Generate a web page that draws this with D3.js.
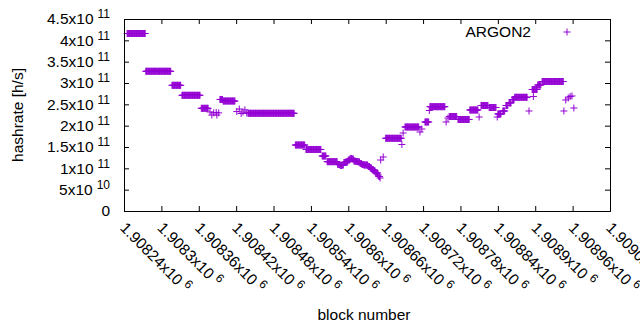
<!DOCTYPE html>
<html>
<head>
<meta charset="utf-8">
<script src="https://cdn.jsdelivr.net/npm/d3@7"></script>
<style>
  body { margin: 0; background: #fff; }
  text { font-family: "Liberation Sans", Arial, sans-serif; fill: #000; }
</style>
</head>
<body>
<script>

// chart size, same as the gnuplot png
var margin = {top: 19, right: 30, bottom: 119, left: 124},
    width = 640 - margin.left - margin.right,
    height = 330 - margin.top - margin.bottom;

// hashrate runs: a block range with one rate
var runFrom = [1908245, 1908275, 1908317, 1908333, 1908364,
  1908378, 1908381, 1908384, 1908388, 1908389, 1908392,
  1908394, 1908399,
  1908421, 1908425, 1908428, 1908431, 1908434, 1908437,
  1908439, 1908515, 1908532, 1908558, 1908566,
  1908583, 1908587, 1908590, 1908593, 1908596, 1908600, 1908603, 1908606, 1908609, 1908612,
  1908616, 1908619, 1908622, 1908625, 1908628, 1908632, 1908635, 1908638, 1908641, 1908644,
  1908648, 1908649, 1908651,
  1908652, 1908656,
  1908660, 1908686, 1908688, 1908691, 1908715, 1908718,
  1908723, 1908730, 1908731, 1908757, 1908760,
  1908762, 1908776, 1908795, 1908810, 1908813, 1908826, 1908839,
  1908840, 1908848, 1908853, 1908858, 1908863, 1908867, 1908890,
  1908895, 1908897, 1908904, 1908911, 1908946,
  1908949, 1908953, 1908956, 1908959, 1908962]
var runTo = [1908274, 1908315, 1908331, 1908362, 1908375,
  1908378, 1908381, 1908384, 1908388, 1908389, 1908392,
  1908398, 1908418,
  1908421, 1908425, 1908428, 1908431, 1908434, 1908437,
  1908513, 1908530, 1908556, 1908564, 1908582,
  1908586, 1908589, 1908592, 1908595, 1908599, 1908602, 1908605, 1908608, 1908611, 1908615,
  1908618, 1908621, 1908624, 1908627, 1908631, 1908634, 1908637, 1908640, 1908643, 1908647,
  1908648, 1908650, 1908651,
  1908652, 1908656,
  1908685, 1908686, 1908688, 1908713, 1908715, 1908718,
  1908729, 1908730, 1908755, 1908757, 1908760,
  1908774, 1908794, 1908808, 1908810, 1908824, 1908837, 1908839,
  1908845, 1908851, 1908856, 1908861, 1908866, 1908887, 1908890,
  1908903, 1908897, 1908909, 1908945, 1908946,
  1908949, 1908953, 1908956, 1908959, 1908962]
var runRate = [4.16e11, 3.275e11, 2.946e11, 2.712e11, 2.407e11,
  2.32e11, 2.25e11, 2.30e11, 2.31e11, 2.25e11, 2.30e11,
  2.614e11, 2.578e11,
  2.33e11, 2.39e11, 2.285e11, 2.32e11, 2.37e11, 2.30e11,
  2.29e11, 1.547e11, 1.442e11, 1.289e11, 1.156e11,
  1.090e11, 1.067e11, 1.078e11, 1.137e11, 1.149e11, 1.195e11, 1.231e11, 1.219e11, 1.172e11, 1.160e11,
  1.149e11, 1.113e11, 1.090e11, 1.078e11, 1.078e11, 1.043e11, 1.008e11, 0.973e11, 0.938e11, 0.891e11,
  0.844e11, 0.809e11, 0.774e11,
  1.195e11, 1.266e11,
  1.704e11, 1.559e11, 1.828e11, 1.969e11, 1.852e11, 1.922e11,
  2.086e11, 2.356e11, 2.445e11, 2.086e11, 2.18e11,
  2.215e11, 2.145e11, 2.367e11, 2.203e11, 2.473e11, 2.426e11, 2.203e11,
  2.274e11, 2.344e11, 2.473e11, 2.532e11, 2.614e11, 2.665e11, 2.344e11,
  2.848e11, 2.684e11, 2.953e11, 3.035e11, 2.344e11,
  2.602e11, 2.649e11, 2.684e11, 2.696e11, 2.414e11]

// tick labels
var xTicks = [1908240, 1908300, 1908360, 1908420, 1908480, 1908540, 1908600,
  1908660, 1908720, 1908780, 1908840, 1908900, 1908960, 1909020]
var xTickMant = ["1.90824", "1.9083", "1.90836", "1.90842", "1.90848", "1.90854", "1.9086",
  "1.90866", "1.90872", "1.90878", "1.90884", "1.9089", "1.90896", "1.90902"]
var xTickExp = "6"
var yTicks = [0, 0.5e11, 1e11, 1.5e11, 2e11, 2.5e11, 3e11, 3.5e11, 4e11, 4.5e11]
var yTickMant = ["0", "5x10", "1x10", "1.5x10", "2x10", "2.5x10", "3x10", "3.5x10", "4x10", "4.5x10"]
var yTickExp = ["", "10", "11", "11", "11", "11", "11", "11", "11", "11"]

var seriesName = "ARGON2"
var color = "#9400d3"
var fontSize = 15.5

var x = d3.scaleLinear()
    .domain([1908240, 1909020])
    .range([0, width]);
var y = d3.scaleLinear()
    .domain([0, 4.5e11])
    .range([height, 0]);

var svg = d3.select("body").append("svg")
    .attr("width", width + margin.left + margin.right)
    .attr("height", height + margin.top + margin.bottom)
  .append("g")
    .attr("transform", "translate(" + margin.left + "," + margin.top + ")");

// one point per block inside each run
var points = []
for (var i = 0; i < runFrom.length; i++) {
  for (var b = runFrom[i]; b <= runTo[i]; b++) {
    points.push({block: b, rate: runRate[i]})
  }
}

var plus = "M-3.5,0H3.5M0,-3.5V3.5"

svg.selectAll(".pt")
    .data(points)
  .enter().append("path")
    .attr("class", "pt")
    .attr("d", plus)
    .attr("transform", function(d) { return "translate(" + x(d.block) + "," + y(d.rate) + ")"; })
    .attr("fill", "none")
    .attr("stroke", color)
    .attr("stroke-width", 1);

// axes, ticks point inwards on all four sides
svg.append("g")
    .attr("transform", "translate(0," + height + ")")
    .call(d3.axisBottom(x).tickValues(xTicks).tickSize(-5).tickFormat(""));
svg.append("g")
    .call(d3.axisTop(x).tickValues(xTicks).tickSize(-5).tickFormat(""));
svg.append("g")
    .call(d3.axisLeft(y).tickValues(yTicks).tickSize(-5).tickFormat(""));
svg.append("g")
    .attr("transform", "translate(" + width + ",0)")
    .call(d3.axisRight(y).tickValues(yTicks).tickSize(-5).tickFormat(""));

svg.selectAll(".domain").attr("stroke", "#000");
svg.selectAll(".tick line").attr("stroke", "#000");

// y tick labels with superscript exponent
yTicks.forEach(function(v, i) {
  var t = svg.append("text")
      .attr("x", -14)
      .attr("y", y(v))
      .attr("dy", "0.35em")
      .attr("text-anchor", "end")
      .style("font-size", fontSize + "px")
      .text(yTickMant[i]);
  if (yTickExp[i] != "") {
    t.append("tspan")
      .attr("dx", 4)
      .attr("dy", -6)
      .style("font-size", "12px")
      .text(yTickExp[i]);
  }
});

// x tick labels, rotated like gnuplot "rotate by -45"
xTicks.forEach(function(v, i) {
  var t = svg.append("text")
      .attr("transform", "translate(" + (x(v) - 1) + "," + (height + 14) + ") rotate(45)")
      .attr("dy", "0.35em")
      .style("font-size", fontSize + "px")
      .text(xTickMant[i] + "x10");
  t.append("tspan")
      .attr("dx", 4)
      .attr("dy", -6)
      .style("font-size", "12px")
      .text(xTickExp);
});

// axis titles
svg.append("text")
    .attr("transform", "translate(-106," + (height / 2) + ") rotate(-90)")
    .attr("dy", "0.35em")
    .attr("text-anchor", "middle")
    .style("font-size", fontSize + "px")
    .text("hashrate [h/s]");

svg.append("text")
    .attr("x", width / 2 - 3)
    .attr("y", 296)
    .attr("dy", "0.35em")
    .attr("text-anchor", "middle")
    .style("font-size", fontSize + "px")
    .text("block number");

// key
svg.append("text")
    .attr("x", 407)
    .attr("y", 13)
    .attr("dy", "0.35em")
    .attr("text-anchor", "end")
    .style("font-size", fontSize + "px")
    .text(seriesName);
svg.append("path")
    .attr("d", plus)
    .attr("transform", "translate(443,13)")
    .attr("fill", "none")
    .attr("stroke", color)
    .attr("stroke-width", 1);

</script>
</body>
</html>
